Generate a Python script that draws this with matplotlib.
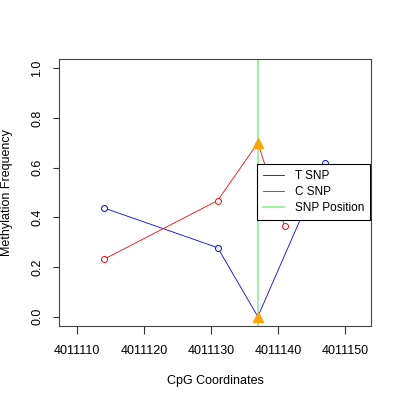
import matplotlib
matplotlib.use("Agg")
import matplotlib.pyplot as plt

plt.rcParams['font.family'] = ['Liberation Sans', 'DejaVu Sans']

t_x = [4011114, 4011131, 4011137, 4011147]
t_y = [0.438, 0.278, 0.0, 0.618]
c_x = [4011114, 4011131, 4011137, 4011141]
c_y = [0.231, 0.468, 0.70, 0.366]
snp_pos = 4011137
snp_y = [0.70, 0.0]
xticks = [4011110, 4011120, 4011130, 4011140, 4011150]
yticks = [0.0, 0.2, 0.4, 0.6, 0.8, 1.0]

fig = plt.figure(figsize=(4, 4), dpi=100)
ax = fig.add_axes([0.1475, 0.186, 0.78, 0.667])

ax.axvline(snp_pos, color='#90EE90', lw=1.2, label='SNP Position', zorder=1)
ax.plot(t_x, t_y, color='blue', lw=0.6, label='T SNP', zorder=2)
ax.plot(c_x, c_y, color='red', lw=0.6, label='C SNP', zorder=2)
for xs, ys, col in [(t_x, t_y, 'blue'), (c_x, c_y, 'red')]:
    px = [x for x in xs if x != snp_pos]
    py = [y for x, y in zip(xs, ys) if x != snp_pos]
    ax.plot(px, py, 'o', mfc='white', mec=col, ms=4.3, mew=0.7, ls='none', zorder=3)
ax.plot([snp_pos] * len(snp_y), snp_y, '^', color='orange', ms=7.2, ls='none', zorder=4)

ax.set_xlim(4011107.3, 4011153.9)
ax.set_ylim(-0.036, 1.039)
ax.set_xticks(xticks)
ax.set_xticklabels([str(v) for v in xticks])
ax.set_yticks(yticks)
ax.set_yticklabels([f"{v:.1f}" for v in yticks], rotation=90, va='center')
ax.tick_params(axis='x', labelsize=9, length=5.5, width=0.8, color='#333333', pad=8.5)
ax.tick_params(axis='y', labelsize=9, length=4.5, width=0.8, color='#333333', pad=7)
for s in ax.spines.values():
    s.set_color('#444444')
    s.set_linewidth(0.8)
ax.set_xlabel('CpG Coordinates', fontsize=9, labelpad=13)
ax.set_ylabel('Methylation Frequency', fontsize=9, labelpad=13)

h, l = ax.get_legend_handles_labels()
order = [1, 2, 0]
leg = ax.legend([h[i] for i in order], [l[i] for i in order],
                loc='upper left', bbox_to_anchor=(0.634, 0.606), borderaxespad=0,
                fontsize=8.5, frameon=True, fancybox=False, framealpha=1,
                edgecolor='black', handlelength=1.8, borderpad=0.5,
                labelspacing=0.35, handletextpad=0.9)
leg.get_frame().set_linewidth(0.8)

fig.savefig('out.png', dpi=100)
